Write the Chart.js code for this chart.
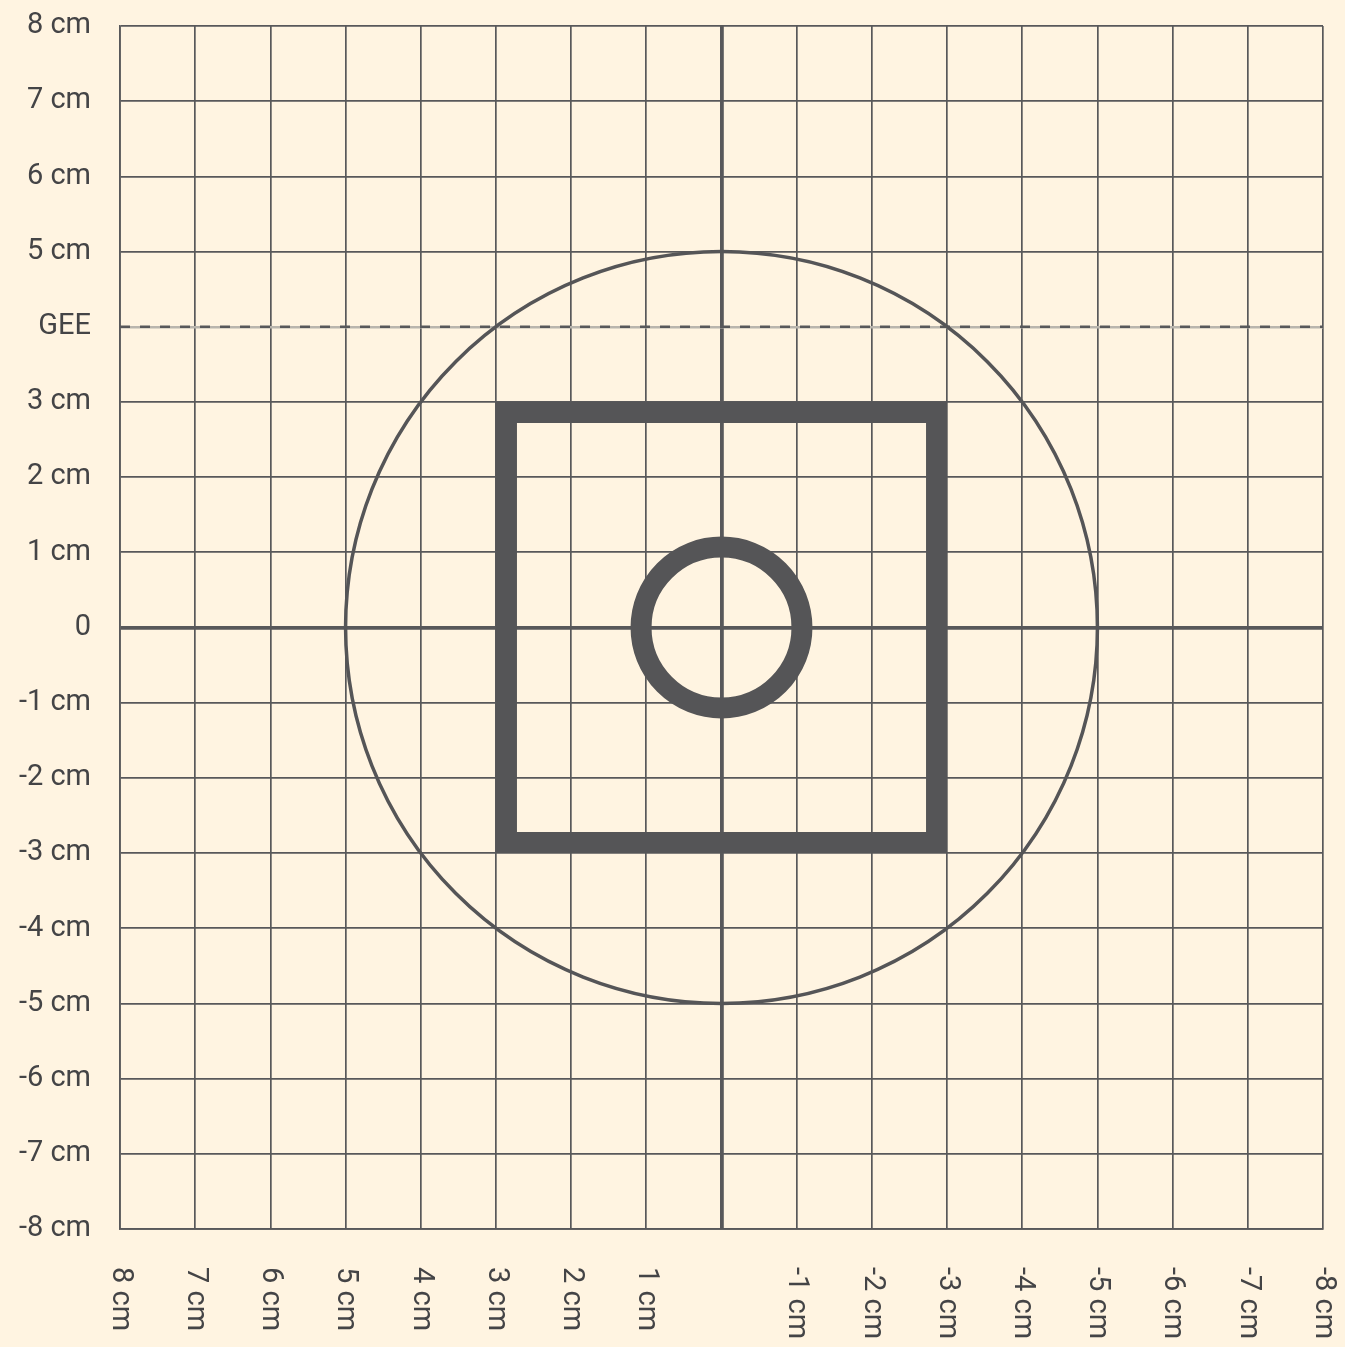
<!DOCTYPE html>
<html>
<head>
<meta charset="utf-8">
<script src="https://cdn.jsdelivr.net/npm/chart.js@4/dist/chart.umd.min.js"></script>
<style>
  html, body { margin: 0; padding: 0; background: #fff4e1; }
  #wrap { width: 1345px; height: 1347px; position: relative; }
</style>
</head>
<body>
<div id="wrap"><canvas id="chart"></canvas></div>
<script>
// tick values and labels (x axis runs 8 -> -8, left to right)
const xTickValues = [8, 7, 6, 5, 4, 3, 2, 1, 0, -1, -2, -3, -4, -5, -6, -7, -8];
const xTickLabels = ['8 cm', '7 cm', '6 cm', '5 cm', '4 cm', '3 cm', '2 cm', '1 cm', '',
  '-1 cm', '-2 cm', '-3 cm', '-4 cm', '-5 cm', '-6 cm', '-7 cm', '-8 cm'];
const yTickValues = [8, 7, 6, 5, 4, 3, 2, 1, 0, -1, -2, -3, -4, -5, -6, -7, -8];
const yTickLabels = ['8 cm', '7 cm', '6 cm', '5 cm', 'GEE', '3 cm', '2 cm', '1 cm', '0',
  '-1 cm', '-2 cm', '-3 cm', '-4 cm', '-5 cm', '-6 cm', '-7 cm', '-8 cm'];

// shapes, in cm
const circleCenters = [{ x: 0, y: 0 }, { x: 0, y: 0 }];
const circleRadii = [5, 1.07];
const squareX = [0, 2.86, 2.86, -2.86, -2.86, 0];
const squareY = [-2.86, -2.86, 2.86, 2.86, -2.86, -2.86];
const geeLineX = [8, -8];
const geeLineY = [4, 4];

const INK = '#58585a';
const SHAPE = '#555557';
const TEXT = '#444446';
const FONT = 'Roboto, "Noto Sans", sans-serif';
const circleWidths = [3.5, 21];

const toPoints = (xs, ys) => xs.map((x, i) => ({ x, y: ys[i] }));
const labelFor = (values, labels) => (v) => {
  const i = values.indexOf(v);
  return i < 0 ? '' : labels[i];
};

// circles sized in axis units, placed with the chart's scales
const circlesPlugin = {
  id: 'circles',
  afterDatasetsDraw(chart) {
    const { ctx, scales: { x, y }, chartArea } = chart;
    ctx.save();
    ctx.beginPath();
    ctx.rect(chartArea.left, chartArea.top, chartArea.width, chartArea.height);
    ctx.clip();
    ctx.strokeStyle = SHAPE;
    circleRadii.forEach((r, i) => {
      const c = circleCenters[i];
      const cx = x.getPixelForValue(c.x);
      const cy = y.getPixelForValue(c.y);
      const rp = Math.abs(x.getPixelForValue(c.x + r) - cx);
      ctx.lineWidth = circleWidths[i];
      ctx.beginPath();
      ctx.arc(cx, cy, rp, 0, Math.PI * 2);
      ctx.stroke();
    });
    ctx.restore();
  },
};

// x labels read top-to-bottom, so draw them ourselves at the scale's tick positions
const xLabelsPlugin = {
  id: 'xLabels',
  afterDraw(chart) {
    const { ctx, scales: { x }, chartArea } = chart;
    ctx.save();
    ctx.fillStyle = TEXT;
    ctx.font = `29px ${FONT}`;
    ctx.textAlign = 'left';
    ctx.textBaseline = 'middle';
    x.ticks.forEach((t) => {
      const text = labelFor(xTickValues, xTickLabels)(t.value);
      if (!text) return;
      ctx.save();
      ctx.translate(x.getPixelForValue(t.value), chartArea.bottom + 38);
      ctx.rotate(Math.PI / 2);
      ctx.fillText(text, 0, 0);
      ctx.restore();
    });
    ctx.restore();
  },
};

const gridWidth = (c) => (c.tick && c.tick.value === 0 ? 3.8 : 1.7);

new Chart(document.getElementById('chart'), {
  type: 'scatter',
  data: {
    datasets: [
      {
        type: 'line',
        data: toPoints(geeLineX, geeLineY),
        borderColor: INK,
        borderWidth: 2.5,
        borderDash: [10, 10],
        pointRadius: 0,
        fill: false,
      },
      {
        type: 'line',
        data: toPoints(squareX, squareY),
        borderColor: SHAPE,
        borderWidth: 21,
        borderJoinStyle: 'miter',
        borderCapStyle: 'butt',
        pointRadius: 0,
        fill: false,
      },
    ],
  },
  options: {
    responsive: true,
    maintainAspectRatio: false,
    animation: false,
    events: [],
    layout: { padding: { left: 0, top: 26, right: 22, bottom: 118 } },
    plugins: { legend: { display: false }, tooltip: { enabled: false } },
    scales: {
      x: {
        type: 'linear',
        reverse: true,
        min: -8,
        max: 8,
        afterFit: (s) => { s.height = 0; s.paddingLeft = 0; s.paddingRight = 0; },
        afterBuildTicks: (s) => { s.ticks = xTickValues.map((value) => ({ value })); },
        ticks: { display: false },
        grid: { color: INK, lineWidth: gridWidth, drawTicks: false },
        border: { color: INK, width: 1.7 },
      },
      y: {
        type: 'linear',
        min: -8,
        max: 8,
        afterFit: (s) => { s.width = 120; s.paddingTop = 0; s.paddingBottom = 0; },
        afterBuildTicks: (s) => { s.ticks = yTickValues.map((value) => ({ value })); },
        ticks: {
          color: TEXT,
          font: { family: FONT, size: 29 },
          padding: 29,
          callback: labelFor(yTickValues, yTickLabels),
        },
        grid: {
          color: (c) => (c.tick && c.tick.value === 4 ? '#b9b5ad' : INK),
          lineWidth: (c) => (c.tick && c.tick.value === 4 ? 2.5 : gridWidth(c)),
          drawTicks: false,
        },
        border: { color: INK, width: 1.7 },
      },
    },
  },
  plugins: [circlesPlugin, xLabelsPlugin],
});
</script>
</body>
</html>
